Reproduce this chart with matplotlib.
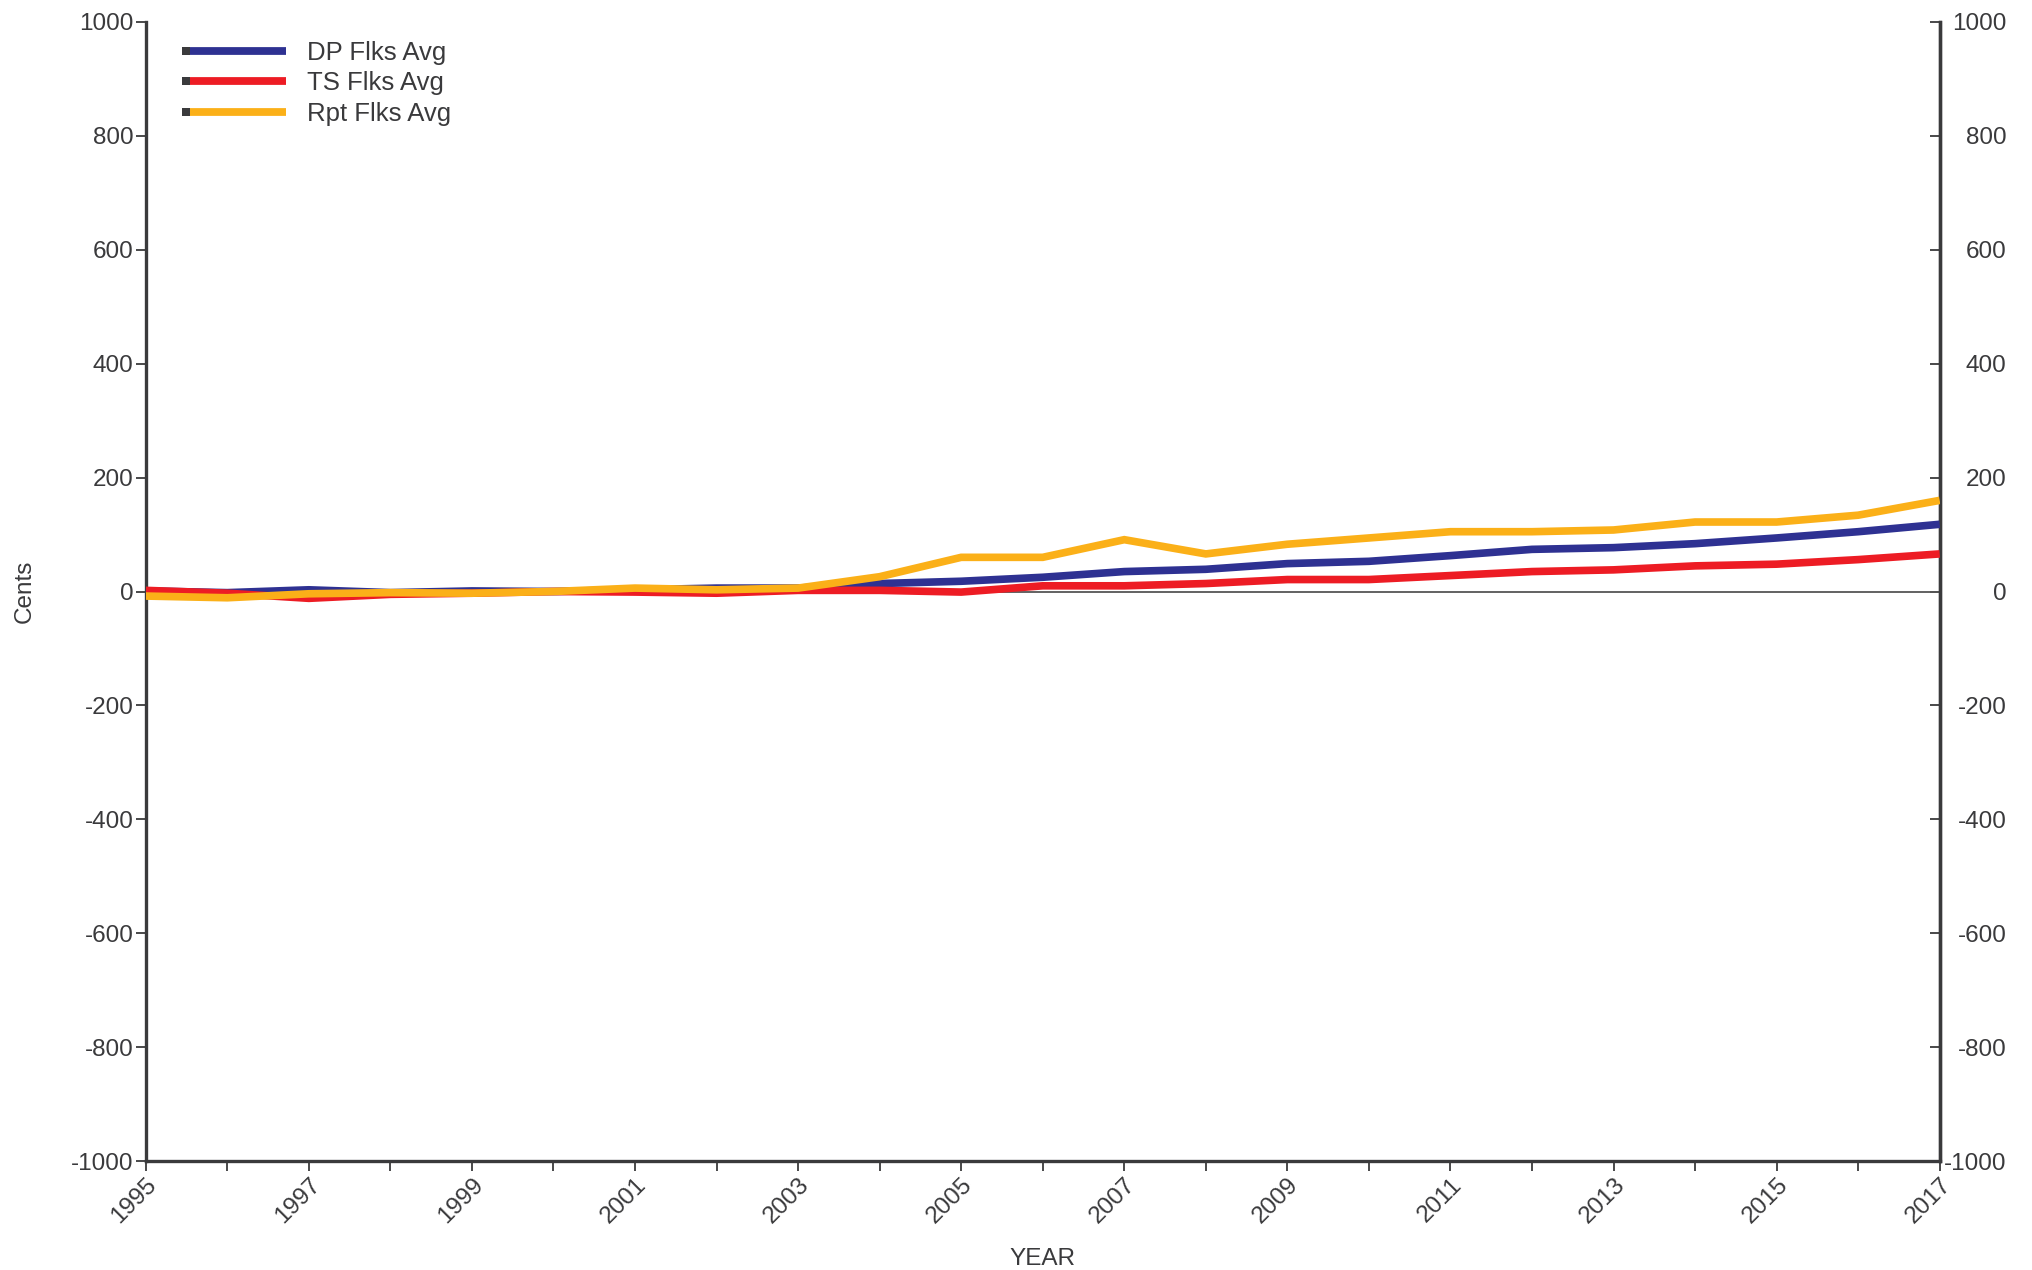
import matplotlib
matplotlib.use("Agg")
import matplotlib.pyplot as plt
from matplotlib.lines import Line2D
from matplotlib.patches import Rectangle

plt.rcParams['font.family'] = ['Liberation Sans', 'DejaVu Sans']

years = list(range(1995, 2018))
dp_flks = [1, -2, 3, -2, 1, 0, 3, 6, 6, 14, 18, 25, 35, 39, 49, 53, 63, 74, 77, 84, 94, 105, 118]
ts_flks = [2, -3, -12, -5, -3, 0, -1, -3, 2, 2, -1, 10, 10, 14, 21, 21, 28, 35, 38, 45, 48, 56, 66]
rpt_flks = [-8, -11, -4, -2, -3, 0, 6, 3, 6, 26, 60, 60, 91, 66, 83, 94, 105, 105, 108, 122, 122, 134, 160]
series_names = ["DP Flks Avg", "TS Flks Avg", "Rpt Flks Avg"]
series_colors = ["#2E3192", "#ED1C24", "#FBB018"]
y_ticks = list(range(-1000, 1001, 200))
x_major = list(range(1995, 2018, 2))

AX = "#3a3a3c"
FS = 17.5
LFS = 18.5

fig = plt.figure(figsize=(20.33, 12.70), dpi=100)
ax = fig.add_axes([0.0717, 0.0858, 0.8824, 0.8969])

ax.axhline(0, color="#555555", lw=1.3, zorder=1)
lines = []
for vals, name, col in zip([dp_flks, ts_flks, rpt_flks], series_names, series_colors):
    ln, = ax.plot(years, vals, color=col, lw=5.5, label=name, zorder=3,
                  solid_joinstyle='miter', solid_capstyle='butt')
    lines.append(ln)

ax.set_xlim(1995, 2017)
ax.set_ylim(-1000, 1000)
ax.set_yticks(y_ticks)
ax.set_yticklabels([str(v) for v in y_ticks])
ax.set_xticks(x_major)
ax.set_xticks(years, minor=True)
ax.set_xticklabels([str(v) for v in x_major], rotation=45, ha='right', va='top',
                   rotation_mode='anchor')

ax.spines["top"].set_visible(False)
for s in ["left", "bottom", "right"]:
    ax.spines[s].set_color(AX)
    ax.spines[s].set_linewidth(2.4)

ax.tick_params(axis='both', which='both', direction='out', length=7, width=1.3,
               color=AX, labelcolor=AX, labelsize=FS)
ax.tick_params(axis='y', pad=2)
ax.tick_params(axis='x', pad=2)

ax2 = ax.twinx()
ax2.set_ylim(-1000, 1000)
ax2.set_yticks(y_ticks)
ax2.set_yticklabels([str(v) for v in y_ticks])
for s in ["top", "left", "bottom"]:
    ax2.spines[s].set_visible(False)
ax2.spines["right"].set_color(AX)
ax2.spines["right"].set_linewidth(2.4)
ax2.tick_params(axis='y', direction='in', length=7, width=1.3, color=AX,
                labelcolor=AX, labelsize=FS, pad=48)
for t in ax2.yaxis.get_major_ticks():
    t.label2.set_ha('right')

ax.set_ylabel("Cents", fontsize=FS, color=AX)
ax.yaxis.set_label_coords(-0.0615, 0.5)
ax.set_xlabel("YEAR", fontsize=FS, color=AX, va='center')
ax.xaxis.set_label_coords(0.5, -0.086)


class LineSquareHandler:
    def __init__(self, color):
        self.color = color

    def legend_artist(self, legend, orig_handle, fontsize, handlebox):
        x0, y0 = handlebox.xdescent, handlebox.ydescent
        w, h = handlebox.width, handlebox.height
        yc = y0 + h / 2
        ln = Line2D([x0, x0 + w], [yc, yc], color=self.color, lw=5.6,
                    solid_capstyle='butt', transform=handlebox.get_transform())
        sq = Rectangle((x0, yc - 2.8), 6.3, 5.6, facecolor=AX, edgecolor='none',
                       transform=handlebox.get_transform())
        handlebox.add_artist(ln)
        handlebox.add_artist(sq)
        return ln


leg = ax.legend(handles=lines, labels=series_names,
                handler_map={l: LineSquareHandler(c) for l, c in zip(lines, series_colors)},
                loc='upper left', bbox_to_anchor=(0.02, 0.9835), frameon=False,
                fontsize=LFS, handlelength=4.05, handletextpad=0.82, labelspacing=0.255,
                borderpad=0, borderaxespad=0)
for txt in leg.get_texts():
    txt.set_color(AX)
ax.set_zorder(ax2.get_zorder() + 1)
ax.patch.set_visible(False)

fig.savefig("out.png", dpi=100)
